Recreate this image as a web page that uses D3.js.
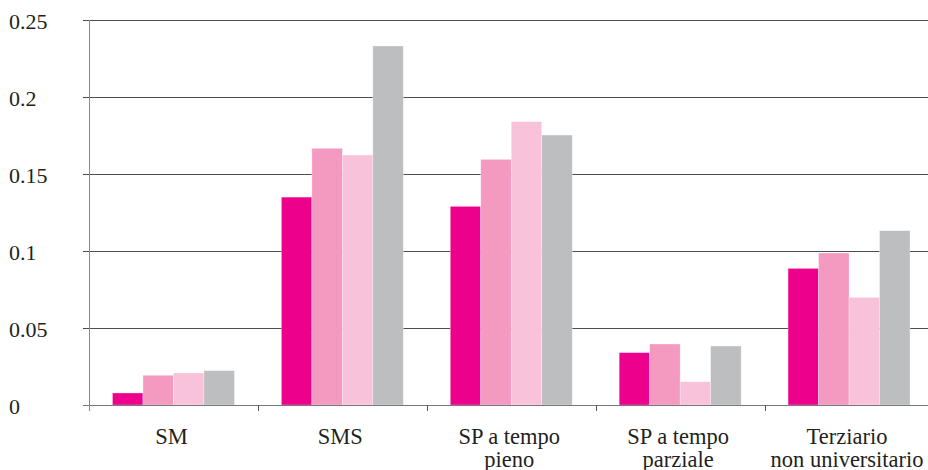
<!DOCTYPE html>
<html lang="it">

<head>
    <meta charset="UTF-8">
    <title>Grafico a barre</title>
    <script src="https://d3js.org/d3.v7.min.js"></script>
    <style>
        body {
            margin: 0;
            background: #fff;
        }
    </style>
</head>

<body>
    <script>
        // Categories (two-line labels split on "\n")
        const categories = ["SM", "SMS", "SP a tempo\npieno", "SP a tempo\nparziale", "Terziario\nnon universitario"];
        const series = ["Serie 1", "Serie 2", "Serie 3", "Serie 4"];
        const colors = ["#ec008c", "#f49ac1", "#f7c2da", "#bcbec0"];

        // Values per series, one per category
        const serie1 = [0.0078, 0.135, 0.129, 0.034, 0.0887];
        const serie2 = [0.0193, 0.1667, 0.1595, 0.0396, 0.0987];
        const serie3 = [0.0208, 0.1623, 0.184, 0.0151, 0.0699];
        const serie4 = [0.0223, 0.2331, 0.1753, 0.0383, 0.1132];
        const values = [serie1, serie2, serie3, serie4];

        const yTicks = [0, 0.05, 0.1, 0.15, 0.2, 0.25];
        const yTickLabels = ["0", "0.05", "0.1", "0.15", "0.2", "0.25"];

        const width = 928, height = 470;
        const mLeft = 89, mRight = 933.5, mTop = 20, mBottom = 405;
        const serif = "'Liberation Serif', 'DejaVu Serif', serif";

        const svg = d3.select("body")
            .append("svg")
            .attr("width", width)
            .attr("height", height)
            .attr("font-family", serif);

        const x0 = d3.scaleBand()
            .domain(categories)
            .range([mLeft, mRight])
            .padding(0);

        const x1 = d3.scaleBand()
            .domain(series)
            .range([0, x0.bandwidth()])
            .paddingInner(0)
            .paddingOuter(0.77);

        const y = d3.scaleLinear()
            .domain([0, 0.25])
            .range([mBottom, mTop]);

        // horizontal gridlines
        svg.append("g")
            .selectAll("line")
            .data(yTicks.filter(d => d > 0))
            .join("line")
            .attr("x1", mLeft - 6)
            .attr("x2", width)
            .attr("y1", d => Math.round(y(d)) + 0.5)
            .attr("y2", d => Math.round(y(d)) + 0.5)
            .attr("stroke", "#4d4d4d")
            .attr("stroke-width", 1);

        // bars
        const rows = [];
        categories.forEach((c, i) => {
            series.forEach((s, j) => {
                rows.push({ cat: c, ser: s, v: values[j][i], col: colors[j] });
            });
        });

        svg.append("g")
            .selectAll("rect")
            .data(rows)
            .join("rect")
            .attr("x", d => x0(d.cat) + x1(d.ser))
            .attr("y", d => y(d.v))
            .attr("width", x1.bandwidth())
            .attr("height", d => mBottom - y(d.v))
            .attr("fill", d => d.col)
            .attr("stroke", "#fff")
            .attr("stroke-opacity", 0.5)
            .attr("stroke-width", 0.6);

        // x axis line and ticks
        svg.append("line")
            .attr("x1", mLeft - 6)
            .attr("x2", width)
            .attr("y1", mBottom + 0.5)
            .attr("y2", mBottom + 0.5)
            .attr("stroke", "#777");

        svg.append("g")
            .selectAll("line")
            .data(categories.map(c => x0(c)).concat([mRight]))
            .join("line")
            .attr("x1", d => Math.round(d) + 0.5)
            .attr("x2", d => Math.round(d) + 0.5)
            .attr("y1", mBottom)
            .attr("y2", mBottom + 6)
            .attr("stroke", "#555");

        // y axis line
        svg.append("line")
            .attr("x1", mLeft + 0.5)
            .attr("x2", mLeft + 0.5)
            .attr("y1", mTop)
            .attr("y2", mBottom + 6)
            .attr("stroke", "#888");

        // y tick labels, left aligned
        svg.append("g")
            .selectAll("text")
            .data(yTicks)
            .join("text")
            .attr("x", 9)
            .attr("y", d => y(d) + 8.5)
            .attr("font-size", 22)
            .attr("fill", "#231f20")
            .text((d, i) => yTickLabels[i]);

        // category labels
        const lab = svg.append("g")
            .selectAll("text")
            .data(categories)
            .join("text")
            .attr("text-anchor", "middle")
            .attr("font-size", 22.5)
            .attr("fill", "#231f20")
            .attr("transform", d => `translate(${x0(d) + x0.bandwidth() / 2 - 2}, 444)`);

        lab.selectAll("tspan")
            .data(d => d.split("\n"))
            .join("tspan")
            .attr("x", 0)
            .attr("dy", (d, i) => i === 0 ? 0 : 23)
            .text(d => d);
    </script>
</body>

</html>
